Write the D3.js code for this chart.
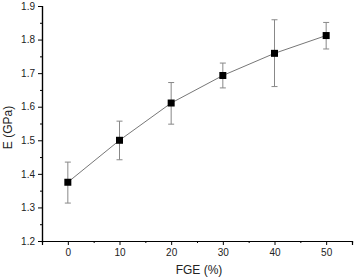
<!DOCTYPE html>
<html lang="en">
<head>
<meta charset="UTF-8">
<script src="https://d3js.org/d3.v7.min.js"></script>
<style>
  body { margin: 0; background: #fff; font-family: "Liberation Sans", Arial, sans-serif; }
</style>
</head>
<body>
<svg id="chart" width="354" height="278"></svg>
<script>
// values
const fge = [0, 10, 20, 30, 40, 50];
const modulus = [1.375, 1.500, 1.611, 1.693, 1.759, 1.812];
const errLow = [1.313, 1.442, 1.548, 1.656, 1.660, 1.772];
const errHigh = [1.435, 1.557, 1.672, 1.730, 1.859, 1.851];
const xTicks = [0, 10, 20, 30, 40, 50];
const yTicks = [1.2, 1.3, 1.4, 1.5, 1.6, 1.7, 1.8, 1.9];

const svg = d3.select("#chart");
const mLeft = 42, mRight = 352, mTop = 6, mBottom = 241;

const x = d3.scaleLinear().domain([-5, 55]).range([mLeft, mRight]);
const y = d3.scaleLinear().domain([1.2, 1.9]).range([mBottom, mTop]);

// axes
const xAxis = d3.axisBottom(x).tickValues(xTicks).tickSize(4).tickPadding(4).tickFormat(d3.format("d"));
const xMinor = d3.axisBottom(x).tickValues(d3.range(-5, 56, 10)).tickSize(2).tickFormat("");
const yAxis = d3.axisLeft(y).tickValues(yTicks).tickSize(4).tickPadding(3).tickFormat(d3.format(".1f"));
const yMinor = d3.axisLeft(y).tickValues(d3.range(1.25, 1.9, 0.1)).tickSize(2).tickFormat("");

function style(g) {
  g.select(".domain").attr("stroke", "#000").attr("stroke-width", 1.2);
  g.selectAll(".tick line").attr("stroke", "#000");
  g.selectAll("text").attr("font-size", 10).attr("fill", "#222")
    .attr("font-family", "Liberation Sans, Arial, sans-serif");
}

svg.append("g").attr("transform", `translate(0,${mBottom})`).call(xMinor).call(style);
svg.append("g").attr("transform", `translate(0,${mBottom})`).call(xAxis).call(style);
svg.append("g").attr("transform", `translate(${mLeft},0)`).call(yMinor).call(style);
svg.append("g").attr("transform", `translate(${mLeft},0)`).call(yAxis).call(style);

// axis titles
svg.append("text").attr("x", (mLeft + mRight) / 2 + 2).attr("y", 274)
  .attr("text-anchor", "middle").attr("font-size", 12).attr("fill", "#222")
  .text("FGE (%)");
svg.append("text").attr("transform", `translate(12,${(mTop + mBottom) / 2 + 4}) rotate(-90)`)
  .attr("text-anchor", "middle").attr("font-size", 12).attr("fill", "#222")
  .text("E (GPa)");

// connecting line
const line = d3.line().x((d, i) => x(fge[i])).y(d => y(d));
svg.append("path").datum(modulus).attr("d", line)
  .attr("fill", "none").attr("stroke", "#777").attr("stroke-width", 1);

// error bars
const eb = svg.append("g").attr("stroke", "#888").attr("stroke-width", 1);
fge.forEach((v, i) => {
  const cx = x(v);
  eb.append("line").attr("x1", cx).attr("x2", cx).attr("y1", y(errLow[i])).attr("y2", y(errHigh[i]));
  eb.append("line").attr("x1", cx - 3).attr("x2", cx + 3).attr("y1", y(errLow[i])).attr("y2", y(errLow[i]));
  eb.append("line").attr("x1", cx - 3).attr("x2", cx + 3).attr("y1", y(errHigh[i])).attr("y2", y(errHigh[i]));
});

// markers
svg.append("g").selectAll("rect").data(modulus).join("rect")
  .attr("x", (d, i) => x(fge[i]) - 3.5).attr("y", d => y(d) - 3.5)
  .attr("width", 7).attr("height", 7).attr("fill", "#000");
</script>
</body>
</html>
